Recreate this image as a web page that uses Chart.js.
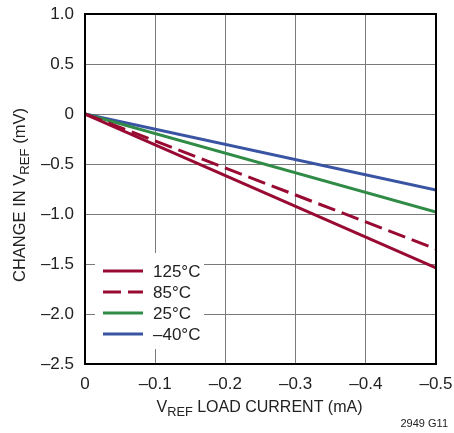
<!DOCTYPE html>
<html>
<head>
<meta charset="utf-8">
<script src="https://cdn.jsdelivr.net/npm/chart.js@4/dist/chart.umd.min.js"></script>
<style>
  html, body { margin: 0; padding: 0; background: #fff; }
  #wrap { width: 454px; height: 433px; position: relative; }
</style>
</head>
<body>
<div id="wrap"><canvas id="loadChart"></canvas></div>
<script>
// dados
const correnteX = [0, -0.5];                 // mA
const serie125 = [0, -1.54];
const serie85 = [0, -1.35];
const serie25 = [0, -0.98];
const serieM40 = [0, -0.76];
const nomes = ['125°C', '85°C', '25°C', '\u201340°C'];
const ticksX = [0, -0.1, -0.2, -0.3, -0.4, -0.5];
const ticksY = [1.0, 0.5, 0, -0.5, -1.0, -1.5, -2.0, -2.5];

const FONTE = '"Liberation Sans", Arial, sans-serif';
const VERMELHO = '#990a33';
const VERDE = '#2f8b45';
const AZUL = '#3a54a4';

function pontos(ys) {
    return correnteX.map((x, i) => ({ x: x, y: ys[i] }));
}

function fmt(v) {
    if (Math.abs(v) < 1e-9) return '0';
    const s = Math.abs(v).toFixed(1);
    return v < 0 ? '\u2013' + s : s;
}

// texto com subscrito (V_REF), centralizado em x
function textoSub(ctx, partes, x, y, tam) {
    let total = 0;
    partes.forEach(p => {
        ctx.font = (p.sub ? tam * 0.8 : tam) + 'px ' + FONTE;
        total += ctx.measureText(p.t).width;
    });
    let cx = x - total / 2;
    partes.forEach(p => {
        const t = p.sub ? tam * 0.8 : tam;
        ctx.font = t + 'px ' + FONTE;
        ctx.fillText(p.t, cx, y + (p.sub ? tam * 0.3 : 0));
        cx += ctx.measureText(p.t).width;
    });
}

const extras = {
    id: 'extras',
    beforeDatasetsDraw(chart) {
        const ctx = chart.ctx;
        // caixa branca da legenda
        ctx.save();
        ctx.fillStyle = '#fff';
        ctx.fillRect(95, 253, 109, 96);
        ctx.restore();
    },
    afterDatasetsDraw(chart) {
        const { ctx, chartArea: a } = chart;
        ctx.save();
        // moldura
        ctx.strokeStyle = '#000';
        ctx.lineWidth = 2;
        ctx.strokeRect(a.left, a.top, a.right - a.left, a.bottom - a.top);

        // legenda
        const linhasY = [271, 292, 313, 334];
        chart.data.datasets.forEach((ds, i) => {
            const y = linhasY[i];
            ctx.strokeStyle = ds.borderColor;
            ctx.lineWidth = 3;
            ctx.setLineDash(ds.borderDash || []);
            ctx.beginPath();
            ctx.moveTo(103, y);
            ctx.lineTo(143, y);
            ctx.stroke();
            ctx.setLineDash([]);
            ctx.fillStyle = '#222';
            ctx.font = '17px ' + FONTE;
            ctx.textBaseline = 'middle';
            ctx.textAlign = 'left';
            ctx.fillText(ds.label, 153, y + 1);
        });

        // títulos dos eixos
        ctx.fillStyle = '#222';
        ctx.textBaseline = 'middle';
        ctx.textAlign = 'left';
        textoSub(ctx, [{ t: 'V' }, { t: 'REF', sub: true }, { t: ' LOAD CURRENT (mA)' }], (a.left + a.right) / 2 - 1, 408, 16);

        ctx.translate(20, 195);
        ctx.rotate(-Math.PI / 2);
        textoSub(ctx, [{ t: 'CHANGE IN V' }, { t: 'REF', sub: true }, { t: ' (mV)' }], 0, 0, 16.5);
        ctx.restore();

        ctx.save();
        ctx.fillStyle = '#222';
        ctx.font = '11px ' + FONTE;
        ctx.textAlign = 'right';
        ctx.textBaseline = 'middle';
        ctx.fillText('2949 G11', 448, 424);
        ctx.restore();
    }
};

const ctx = document.getElementById('loadChart').getContext('2d');
new Chart(ctx, {
    type: 'line',
    data: {
        datasets: [
            { label: nomes[0], data: pontos(serie125), borderColor: VERMELHO },
            { label: nomes[1], data: pontos(serie85), borderColor: VERMELHO, borderDash: [18, 7] },
            { label: nomes[2], data: pontos(serie25), borderColor: VERDE },
            { label: nomes[3], data: pontos(serieM40), borderColor: AZUL }
        ].map(d => Object.assign({ borderWidth: 3, pointRadius: 0, fill: false, tension: 0 }, d))
    },
    options: {
        responsive: true,
        maintainAspectRatio: false,
        animation: false,
        events: [],
        layout: { padding: { top: 14, right: 18, left: 0, bottom: 0 } },
        plugins: { legend: { display: false }, tooltip: { enabled: false } },
        scales: {
            x: {
                type: 'linear',
                reverse: true,
                min: -0.5,
                max: 0,
                afterBuildTicks: s => { s.ticks = ticksX.map(v => ({ value: v })); },
                afterFit: s => { s.height = 69; s.paddingLeft = 0; s.paddingRight = 0; },
                grid: { color: '#7a7a7a', lineWidth: 1, drawTicks: false },
                border: { display: false },
                ticks: {
                    color: '#222',
                    padding: 10,
                    maxRotation: 0,
                    font: { family: FONTE, size: 17 },
                    callback: v => fmt(v)
                }
            },
            y: {
                min: -2.5,
                max: 1,
                afterBuildTicks: s => { s.ticks = ticksY.map(v => ({ value: v })); },
                afterFit: s => { s.width = 85; s.paddingTop = 0; s.paddingBottom = 0; },
                grid: { color: '#7a7a7a', lineWidth: 1, drawTicks: false },
                border: { display: false },
                ticks: {
                    color: '#222',
                    padding: 11,
                    font: { family: FONTE, size: 17 },
                    callback: v => fmt(v)
                }
            }
        }
    },
    plugins: [extras]
});
</script>
</body>
</html>
